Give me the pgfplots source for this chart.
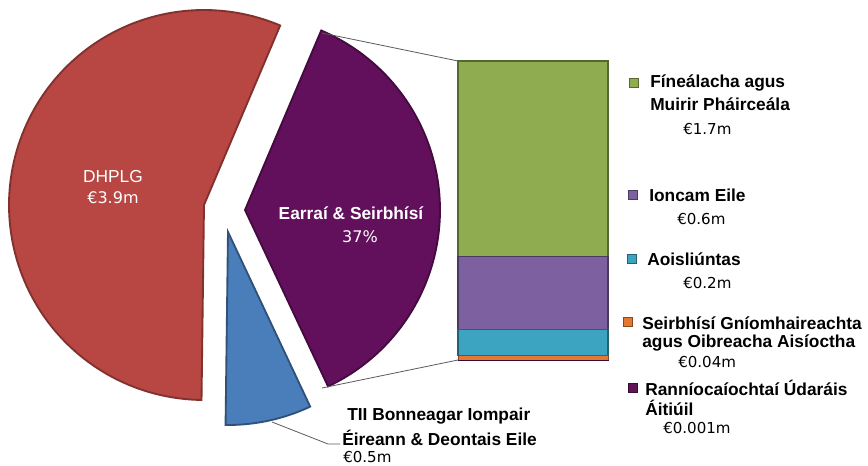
\documentclass[border=0pt]{standalone}
\usepackage{fontspec}
\setmainfont{Liberation Sans}
\newfontfamily\valfont{DejaVu Sans}
\usepackage{pgfplots}
\pgfplotsset{compat=1.18}
\definecolor{cRed}{RGB}{184,70,66}
\definecolor{cPurp}{RGB}{98,16,92}
\definecolor{cBlue}{RGB}{74,126,187}
\definecolor{cGreen}{RGB}{143,172,80}
\definecolor{cViolet}{RGB}{124,96,160}
\definecolor{cTeal}{RGB}{60,164,192}
\definecolor{cOrange}{RGB}{226,120,50}
\definecolor{cDark}{RGB}{96,20,88}
\definecolor{cLine}{RGB}{90,90,90}
\newcommand{\lab}{\fontsize{13}{15.5}\selectfont\bfseries}
\newcommand{\val}{\valfont\fontsize{11.3}{13}\selectfont}
% pie values (million euro)
\def\vD{3.9}   % DHPLG
\def\vE{2.541} % Earrai & Seirbhisi
\def\vT{0.5}   % TII
\pgfmathsetmacro\tot{\vD+\vE+\vT}
\pgfmathsetmacro\aS{67}
\pgfmathsetmacro\aE{\aS-360*\vE/\tot}
\pgfmathsetmacro\aB{\aE-360*\vT/\tot}
\pgfmathsetmacro\aR{\aS-360}
\begin{document}
\begin{tikzpicture}
\useasboundingbox (0,0) rectangle (651pt,349.5pt);
\begin{axis}[scale only axis, width=651pt, height=349.5pt,
  at={(0,0)}, anchor=south west,
  xmin=0, xmax=868, ymin=0, ymax=466, hide axis, clip=false]
% pie slices
\addplot[fill=cRed, draw=cRed!70!black, line width=1.4pt, domain=\aR:\aB, samples=120, variable=\t]
  ({204+195*cos(\t)},{261+195*sin(\t)}) -- (axis cs:204,261) -- cycle;
\addplot[fill=cPurp, draw=cPurp!70!black, line width=1.4pt, domain=\aE:\aS, samples=90, variable=\t]
  ({245+195*cos(\t)},{256+195*sin(\t)}) -- (axis cs:245,256) -- cycle;
\addplot[fill=cBlue, draw=cBlue!65!black, line width=1.4pt, domain=\aB:\aE, samples=30, variable=\t]
  ({228+193*cos(\t)},{234+193*sin(\t)}) -- (axis cs:228,234) -- cycle;
% connector lines
\addplot[cLine, line width=0.6pt, no marks] coordinates {(322,433) (458,405)};
\addplot[cLine, line width=0.6pt, no marks] coordinates {(322,78) (458,106)};
\addplot[cLine, line width=0.6pt, no marks] coordinates {(272,44) (328,22) (340,22)};
% pie labels
\node[white, font=\fontsize{13}{15}\selectfont] at (axis cs:113,289) {DHPLG};
\node[white, font=\valfont\fontsize{12}{14}\selectfont] at (axis cs:113,268) {€3.9m};
\node[white, font=\lab] at (axis cs:351,253) {Earraí \& Seirbhísí};
\node[white, font=\valfont\fontsize{12}{14}\selectfont] at (axis cs:360,229) {37\%};
\node[anchor=west, inner sep=0, font=\lab] at (axis cs:347,50) {TII Bonneagar Iompair};
\node[anchor=west, inner sep=0, font=\lab] at (axis cs:342,28) {Éireann \& Deontais Eile};
\node[anchor=west, inner sep=0, font=\val] at (axis cs:343,9) {€0.5m};
% legend
\node[fill=cGreen, draw=cGreen!60!black, minimum size=7pt, inner sep=0] at (axis cs:634,383) {};
\node[anchor=west, inner sep=0, font=\lab] at (axis cs:650,383) {Fíneálacha agus};
\node[anchor=west, inner sep=0, font=\lab] at (axis cs:650,362) {Muirir Pháirceála};
\node[anchor=west, inner sep=0, font=\val] at (axis cs:683,337) {€1.7m};
\node[fill=cViolet, draw=cViolet!60!black, minimum size=7pt, inner sep=0] at (axis cs:633,271) {};
\node[anchor=west, inner sep=0, font=\lab] at (axis cs:649,271) {Ioncam Eile};
\node[anchor=west, inner sep=0, font=\val] at (axis cs:677,247) {€0.6m};
\node[fill=cTeal, draw=cTeal!60!black, minimum size=7pt, inner sep=0] at (axis cs:632,207) {};
\node[anchor=west, inner sep=0, font=\lab] at (axis cs:647,207) {Aoisliúntas};
\node[anchor=west, inner sep=0, font=\val] at (axis cs:683,183) {€0.2m};
\node[fill=cOrange, draw=cOrange!60!black, minimum size=7pt, inner sep=0] at (axis cs:628,144) {};
\node[anchor=west, inner sep=0, font=\lab] at (axis cs:642,143) {Seirbhísí Gníomhaireachta};
\node[anchor=west, inner sep=0, font=\lab] at (axis cs:642,123) {agus Oibreacha Aisíoctha};
\node[anchor=west, inner sep=0, font=\val] at (axis cs:678,104) {€0.04m};
\node[fill=cDark, draw=cDark!60!black, minimum size=7pt, inner sep=0] at (axis cs:633,78) {};
\node[anchor=west, inner sep=0, font=\lab] at (axis cs:645,78) {Ranníocaíochtaí Údaráis};
\node[anchor=west, inner sep=0, font=\lab] at (axis cs:645,58) {Áitiúil};
\node[anchor=west, inner sep=0, font=\val] at (axis cs:663,38) {€0.001m};
\end{axis}
\begin{axis}[scale only axis, width=651pt, height=349.5pt,
  at={(0,0)}, anchor=south west,
  xmin=0, xmax=868, ymin=-0.9008, ymax=3.0594, hide axis, clip=false,
  ybar stacked, bar width=112.5pt]
\addplot[fill=cDark, draw=cDark!60!black, line width=0.5pt] coordinates {(533,0.001)};
\addplot[fill=cOrange, draw=cOrange!60!black, line width=0.5pt] coordinates {(533,0.04)};
\addplot[fill=cTeal, draw=cTeal!60!black, line width=0.9pt] coordinates {(533,0.22)};
\addplot[fill=cViolet, draw=cViolet!60!black, line width=0.9pt] coordinates {(533,0.62)};
\addplot[fill=cGreen, draw=cGreen!60!black, line width=0.9pt] coordinates {(533,1.66)};
\end{axis}
\end{tikzpicture}
\end{document}
